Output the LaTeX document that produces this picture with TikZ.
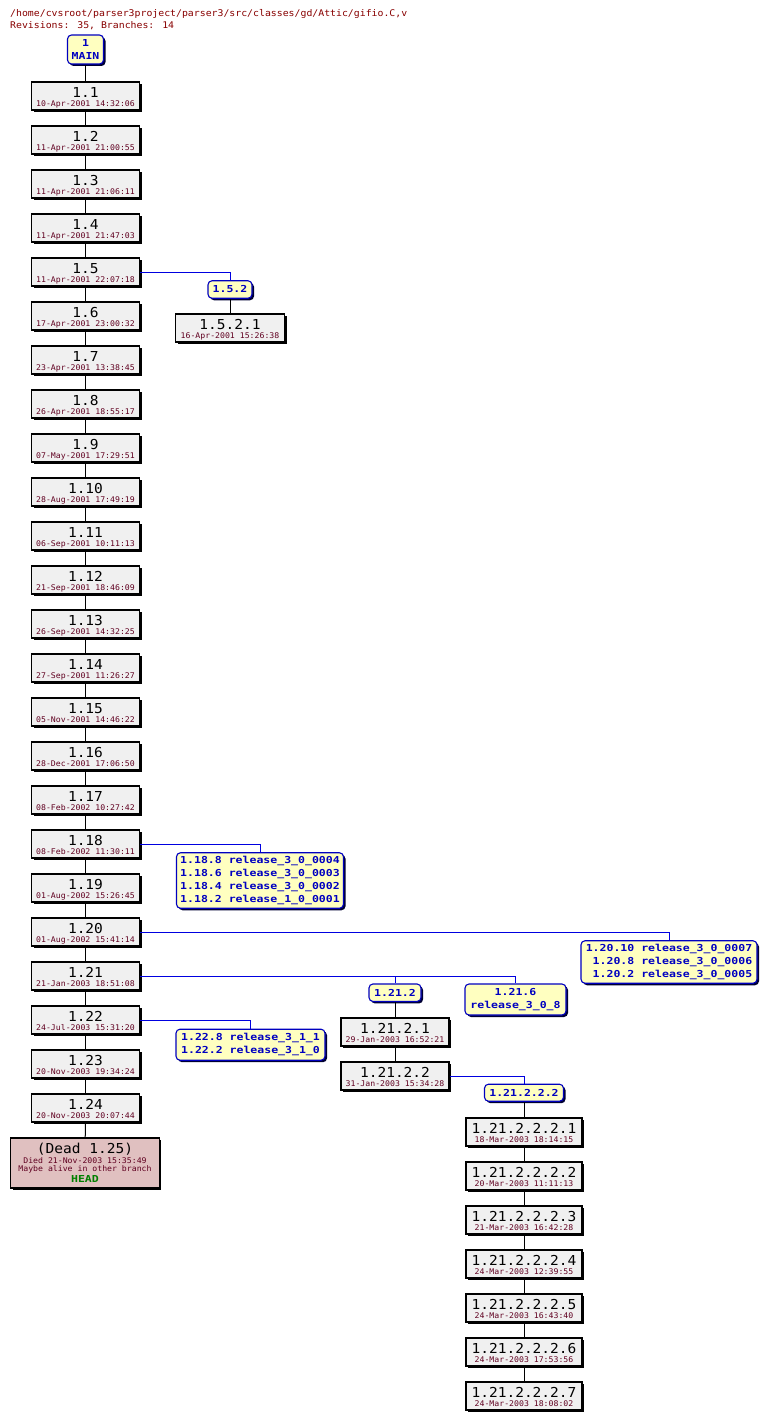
\documentclass[tikz,border=0pt]{standalone}
\usepackage{fontspec}
\usetikzlibrary{shadows,calc}
\newfontfamily\numfont[FakeStretch=1.06]{DejaVu Sans Mono}
\newfontfamily\datefont[FakeStretch=1.05]{DejaVu Sans Mono}
\newfontfamily\lblfont[FakeStretch=1.2]{DejaVu Sans Mono}
\newfontfamily\hdrfont[FakeStretch=1.07]{DejaVu Sans Mono}
\definecolor{hdrred}{RGB}{136,0,0}
\definecolor{datered}{RGB}{96,0,32}
\definecolor{revfill}{RGB}{240,240,240}
\definecolor{lblfill}{RGB}{255,255,192}
\definecolor{lblblue}{RGB}{0,0,192}
\definecolor{linkblue}{RGB}{0,0,224}
\definecolor{deadfill}{RGB}{224,192,192}
\definecolor{headgreen}{RGB}{0,128,0}
\tikzset{
  boxshadow/.style={drop shadow={shadow xshift=2pt,shadow yshift=-2pt,fill=black,opacity=1}},
  revbox/.style={draw=black,line width=1.1pt,fill=revfill,minimum width=108pt,minimum height=28pt,inner sep=0pt,boxshadow},
  revnum/.style={anchor=base,inner sep=0pt,font=\numfont\fontsize{13.7}{16}\selectfont},
  revdate/.style={anchor=base,inner sep=0pt,text=datered,font=\datefont\fontsize{7.8}{9}\selectfont},
  lbl/.style={draw=lblblue,fill=lblfill,rounded corners=4pt,line width=1.1pt,text=lblblue,
     font=\lblfont\bfseries\fontsize{9.6}{13.3}\selectfont,align=center,inner sep=0pt,
     drop shadow={shadow xshift=2pt,shadow yshift=-2pt,fill=black!80!blue,opacity=1}},
  trunk/.style={draw=black,line width=1pt},
  branch/.style={draw=linkblue,line width=1pt},
  hdr/.style={anchor=base west,inner sep=0pt,text=hdrred,font=\hdrfont\fontsize{9.2}{11}\selectfont},
}
\newcommand\revnode[6][]{%
  \node[revbox,#1] (#2) at (#3,#4) {};
  \node[revnum] (#2-n) at (#3,#4+1.3) {#5};
  \node[revdate] (#2-d) at (#3,#4+10.7) {#6};}
\begin{document}
\begin{tikzpicture}[x=1pt,y=-1pt]
\useasboundingbox (0,0) rectangle (768,1421);
\fill[white] (0,0) rectangle (768,1421);
% header
\node[hdr] (h1) at (10,16.5) {/home/cvsroot/parser3project/parser3/src/classes/gd/Attic/gifio.C,v};
\node[hdr] (h2) at (10,28.5) {Revisions: 35, Branches: 14};
% main label
\node[lbl,minimum width=36pt,minimum height=29pt] (main) at (85.5,49.5) {1\\MAIN};
% trunk revisions
\revnode{r1}{85.5}{96}{1.1}{10-Apr-2001 14:32:06}
\revnode{r2}{85.5}{140}{1.2}{11-Apr-2001 21:00:55}
\revnode{r3}{85.5}{184}{1.3}{11-Apr-2001 21:06:11}
\revnode{r4}{85.5}{228}{1.4}{11-Apr-2001 21:47:03}
\revnode{r5}{85.5}{272}{1.5}{11-Apr-2001 22:07:18}
\revnode{r6}{85.5}{316}{1.6}{17-Apr-2001 23:00:32}
\revnode{r7}{85.5}{360}{1.7}{23-Apr-2001 13:38:45}
\revnode{r8}{85.5}{404}{1.8}{26-Apr-2001 18:55:17}
\revnode{r9}{85.5}{448}{1.9}{07-May-2001 17:29:51}
\revnode{r10}{85.5}{492}{1.10}{28-Aug-2001 17:49:19}
\revnode{r11}{85.5}{536}{1.11}{06-Sep-2001 10:11:13}
\revnode{r12}{85.5}{580}{1.12}{21-Sep-2001 18:46:09}
\revnode{r13}{85.5}{624}{1.13}{26-Sep-2001 14:32:25}
\revnode{r14}{85.5}{668}{1.14}{27-Sep-2001 11:26:27}
\revnode{r15}{85.5}{712}{1.15}{05-Nov-2001 14:46:22}
\revnode{r16}{85.5}{756}{1.16}{28-Dec-2001 17:06:50}
\revnode{r17}{85.5}{800}{1.17}{08-Feb-2002 10:27:42}
\revnode{r18}{85.5}{844}{1.18}{08-Feb-2002 11:30:11}
\revnode{r19}{85.5}{888}{1.19}{01-Aug-2002 15:26:45}
\revnode{r20}{85.5}{932}{1.20}{01-Aug-2002 15:41:14}
\revnode{r21}{85.5}{976}{1.21}{21-Jan-2003 18:51:08}
\revnode{r22}{85.5}{1020}{1.22}{24-Jul-2003 15:31:20}
\revnode{r23}{85.5}{1064}{1.23}{20-Nov-2003 19:34:24}
\revnode{r24}{85.5}{1108}{1.24}{20-Nov-2003 20:07:44}
% dead
\node[revbox,fill=deadfill,minimum width=148.5pt,minimum height=50pt] (dead) at (85,1163) {};
\node[revnum] (dead-n) at (85,1153.3) {(Dead 1.25)};
\node[revdate] (dead-d1) at (85,1163.3) {Died 21-Nov-2003 15:35:49};
\node[revdate] (dead-d2) at (85,1171) {Maybe alive in other branch};
\node[anchor=base,inner sep=0pt,text=headgreen,font=\lblfont\bfseries\fontsize{9.6}{12}\selectfont] (dead-h) at (85,1182.7) {HEAD};
% branch 1.5.2
\node[lbl,minimum width=44pt,minimum height=17.5pt] (b152) at (230,289.5) {1.5.2};
\revnode[minimum width=109pt]{r1521}{230}{328}{1.5.2.1}{16-Apr-2001 15:26:38}
% 1.18 tags
\node[lbl,minimum width=167pt,minimum height=55.5pt] (t118) at (260,880.5) {1.18.8 release\_3\_0\_0004\\1.18.6 release\_3\_0\_0003\\1.18.4 release\_3\_0\_0002\\1.18.2 release\_1\_0\_0001};
% 1.20 tags
\node[lbl,align=right,minimum width=176pt,minimum height=42.5pt] (t120) at (669,962) {1.20.10 release\_3\_0\_0007\\1.20.8 release\_3\_0\_0006\\1.20.2 release\_3\_0\_0005};
% 1.21 branches
\node[lbl,minimum width=52pt,minimum height=17.5pt] (b1212) at (395,992.7) {1.21.2};
\node[lbl,minimum width=101pt,minimum height=31pt] (t1216) at (515.5,999.5) {1.21.6\\release\_3\_0\_8};
\revnode{r12121}{395}{1032}{1.21.2.1}{29-Jan-2003 16:52:21}
\revnode{r12122}{395}{1076}{1.21.2.2}{31-Jan-2003 15:34:28}
% 1.22 tags
\node[lbl,minimum width=149pt,minimum height=31pt] (t122) at (250.5,1044.7) {1.22.8 release\_3\_1\_1\\1.22.2 release\_3\_1\_0};
% 1.21.2.2.2 branch
\node[lbl,minimum width=79pt,minimum height=17pt] (b121222) at (524,1092.7) {1.21.2.2.2};
\revnode[minimum width=116pt]{s1}{524}{1132}{1.21.2.2.2.1}{18-Mar-2003 18:14:15}
\revnode[minimum width=116pt]{s2}{524}{1176}{1.21.2.2.2.2}{20-Mar-2003 11:11:13}
\revnode[minimum width=116pt]{s3}{524}{1220}{1.21.2.2.2.3}{21-Mar-2003 16:42:28}
\revnode[minimum width=116pt]{s4}{524}{1264}{1.21.2.2.2.4}{24-Mar-2003 12:39:55}
\revnode[minimum width=116pt]{s5}{524}{1308}{1.21.2.2.2.5}{24-Mar-2003 16:43:40}
\revnode[minimum width=116pt]{s6}{524}{1352}{1.21.2.2.2.6}{24-Mar-2003 17:53:56}
\revnode[minimum width=116pt]{s7}{524}{1396}{1.21.2.2.2.7}{24-Mar-2003 18:08:02}
% connectors
\draw[trunk] (main) -- (r1);
\foreach \i [evaluate=\i as \j using int(\i+1)] in {1,...,23} \draw[trunk] (r\i) -- (r\j);
\draw[trunk] (r24) -- (dead);
\draw[branch] (r5.east) -| (b152.north);
\draw[trunk] (b152) -- (r1521);
\draw[branch] (r18.east) -| (t118.north);
\draw[branch] (r20.east) -| (t120.north);
\draw[branch] (r21.east) -| (b1212.north);
\draw[branch] (r21.east) -| (t1216.north);
\draw[trunk] (b1212) -- (r12121);
\draw[trunk] (r12121) -- (r12122);
\draw[branch] (r22.east) -| (t122.north);
\draw[branch] (r12122.east) -| (b121222.north);
\draw[trunk] (b121222) -- (s1);
\foreach \i [evaluate=\i as \j using int(\i+1)] in {1,...,6} \draw[trunk] (s\i) -- (s\j);
\end{tikzpicture}
\end{document}
